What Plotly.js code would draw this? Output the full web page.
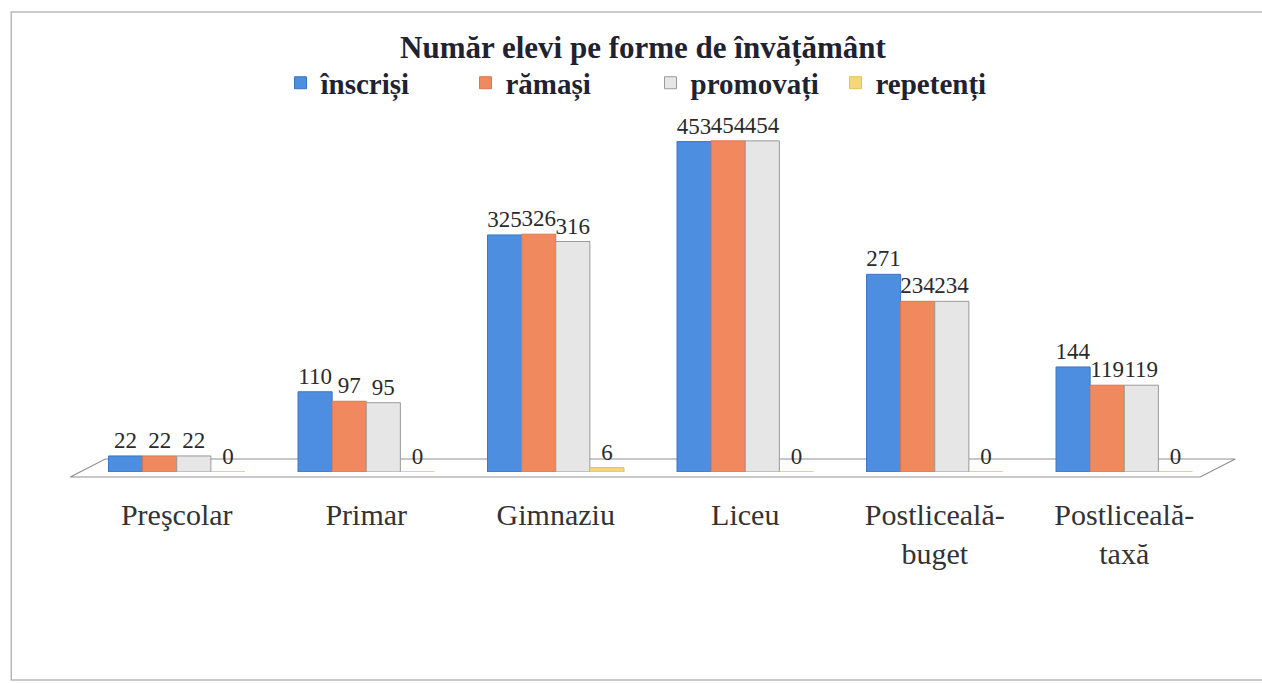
<!DOCTYPE html>
<html>
<head>
<meta charset="utf-8">
<script src="https://cdn.plot.ly/plotly-3.0.1.min.js"></script>
<style>
html,body{margin:0;padding:0;background:#fff;}
#chart{width:1262px;height:683px;}
</style>
</head>
<body>
<div id="chart"></div>
<script>
const categories = ["Preşcolar", "Primar", "Gimnaziu", "Liceu", "Postliceală-<br>buget", "Postliceală-<br>taxă"];
const inscrisi   = [22, 110, 325, 453, 271, 144];
const ramasi     = [22, 97, 326, 454, 234, 119];
const promovati  = [22, 95, 316, 454, 234, 119];
const repetenti  = [0, 0, 6, 0, 0, 0];
const seriesNames = ["înscriși", "rămași", "promovați", "repetenți"];
const colors = ["#4d8ee0", "#f08a5e", "#e6e6e6", "#f3d77a"];
const lineColors = ["#3a75c4", "#d9774c", "#9a9a9a", "#e0c060"];

const serif = "'Liberation Serif', 'Times New Roman', serif";
const allSeries = [inscrisi, ramasi, promovati, repetenti];

const traces = allSeries.map((vals, i) => ({
  type: "bar",
  name: seriesNames[i],
  x: categories,
  y: vals,
  text: vals.map(String),
  textposition: "outside",
  constraintext: "none",
  cliponaxis: false,
  textfont: {family: serif, size: 23, color: "#2a2a2a"},
  marker: {color: colors[i], line: {color: lineColors[i], width: 1}}
}));

const layout = {
  width: 1262, height: 683,
  paper_bgcolor: "#ffffff", plot_bgcolor: "#ffffff",
  margin: {l: 82, r: 43, t: 100, b: 211},
  barmode: "group",
  bargap: 0.28,
  bargroupgap: 0,
  font: {family: serif, color: "#2a2a2a"},
  title: {
    text: "<b>Număr elevi pe forme de învățământ</b>",
    font: {family: serif, size: 31, color: "#1f2230"},
    x: 0.5095, xanchor: "center", y: 0.931, yanchor: "middle"
  },
  showlegend: true,
  legend: {
    orientation: "h", x: 0.5, xanchor: "center", y: 1.046, yanchor: "middle",
    font: {family: serif, size: 29, color: "#1f2230", weight: "bold"},
    entrywidth: 140, entrywidthmode: "pixels",
    itemwidth: 30, traceorder: "normal"
  },
  xaxis: {
    showgrid: false, zeroline: false, showline: false,
    ticks: "", tickfont: {family: serif, size: 30, color: "#333"},
    ticklabelstandoff: 22
  },
  yaxis: {
    range: [0, 510], showgrid: false, zeroline: false,
    showticklabels: false, ticks: "", showline: false
  },
  shapes: [
    {type: "rect", xref: "paper", yref: "paper", x0: -0.0622, x1: 1.045, y0: -0.559, y1: 1.2366,
     line: {color: "#b8b8b8", width: 1.5}, layer: "below"},
    {type: "path", xref: "paper", yref: "paper",
     path: "M -0.0103,-0.0134 L 0.0204,0.035 L 1.0143,0.035 L 0.9835,-0.0134 Z",
     line: {color: "#8f8f8f", width: 1.2}, fillcolor: "rgba(0,0,0,0)", layer: "below"}
  ]
};

Plotly.newPlot("chart", traces, layout, {displayModeBar: false, staticPlot: true});
</script>
</body>
</html>
